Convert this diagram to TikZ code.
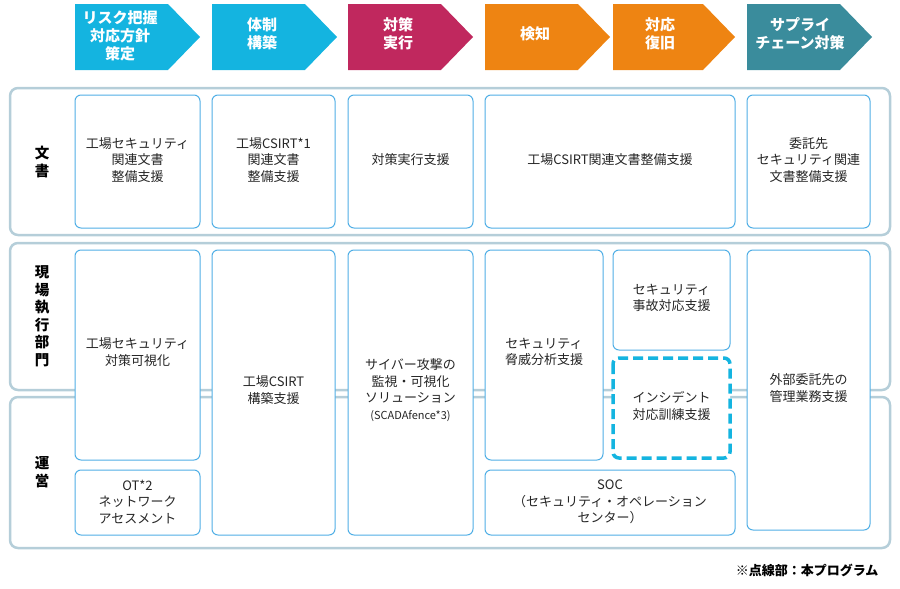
\documentclass[tikz,border=0pt]{standalone}
\usepackage{fontspec}
\setmainfont{Noto Sans CJK JP}
\begin{document}
\begin{tikzpicture}[x=1pt,y=-1pt,
 band/.style={draw=cyan!35!gray!50,line width=2.5pt,rounded corners=8pt,fill=white},
 cell/.style={draw=cyan!80!blue!70,line width=1pt,rounded corners=6pt,fill=white},
 txt/.style={align=center,font=\fontsize{13}{16.5}\selectfont,text=black!85},
 hd/.style={align=center,font=\bfseries\fontsize{15}{18}\selectfont,text=white},
 lab/.style={align=center,font=\bfseries\fontsize{14.5}{17.5}\selectfont}]
\useasboundingbox (0,0) rectangle (900,589);
\definecolor{cb}{HTML}{14B4E0}\definecolor{mg}{HTML}{C0285E}
\definecolor{og}{HTML}{EE8412}\definecolor{tl}{HTML}{3A8C9C}
\foreach \a/\b/\c [count=\i] in {75/200/cb,212/337/cb,348/473/mg,485/610/og,613/735/og,747/872/tl}{
 \fill[\c] (\a,4) -- (\b-32,4) -- (\b,37) -- (\b-32,70) -- (\a,70) -- cycle;}
\node[hd] (h1) at (120,36) {リスク把握\\対応方針\\策定};
\node[hd] (h2) at (262,34) {体制\\構築};
\node[hd] (h3) at (398,34) {対策\\実行};
\node[hd] (h4) at (535,34) {検知};
\node[hd] (h5) at (660,34) {対応\\復旧};
\node[hd] (h6) at (800,34) {サプライ\\チェーン対策};
\draw[band] (10,88) rectangle (890,235);
\draw[band] (10,243) rectangle (890,390);
\draw[band] (10,397) rectangle (890,548);
\node[lab] (l1) at (42,162) {文\\書};
\node[lab] (l2) at (42,316) {現\\場\\執\\行\\部\\門};
\node[lab] (l3) at (42,472) {運\\営};
\draw[cell] (75,95) rectangle (200,228);
\node[txt] (a1) at (137.5,160) {工場セキュリティ\\関連文書\\整備支援};
\draw[cell] (212,95) rectangle (335,228);
\node[txt] (a2) at (273.5,160) {工場CSIRT*1\\関連文書\\整備支援};
\draw[cell] (348,95) rectangle (473,228);
\node[txt] (a3) at (410.5,160) {対策実行支援};
\draw[cell] (485,95) rectangle (735,228);
\node[txt] (a4) at (610,160) {工場CSIRT関連文書整備支援};
\draw[cell] (747,95) rectangle (870,228);
\node[txt] (a5) at (808.5,160) {委託先\\セキュリティ関連\\文書整備支援};
\draw[cell] (75,250) rectangle (200,460);
\node[txt] (b1) at (137.5,352) {工場セキュリティ\\対策可視化};
\draw[cell] (75,470) rectangle (200,535);
\node[txt] (b2) at (137.5,502) {OT*2\\ネットワーク\\アセスメント};
\draw[cell] (212,250) rectangle (335,535);
\node[txt] (b3) at (273.5,390) {工場CSIRT\\構築支援};
\draw[cell] (348,250) rectangle (473,535);
\node[txt] (b4) at (410.5,390) {サイバー攻撃の\\監視・可視化\\ソリューション\\{\fontsize{11}{14}\selectfont(SCADAfence*3)}};
\draw[cell] (485,250) rectangle (603,460);
\node[txt] (b5) at (544,352) {セキュリティ\\脅威分析支援};
\draw[cell] (613,250) rectangle (730,350);
\node[txt] (b6) at (671.5,298) {セキュリティ\\事故対応支援};
\draw[cell,draw=cb,line width=3.5pt,dash pattern=on 10pt off 5pt] (613,358) rectangle (730,458);
\node[txt] (b7) at (671.5,406) {インシデント\\対応訓練支援};
\draw[cell] (485,470) rectangle (735,535);
\node[txt] (b8) at (610,502) {SOC\\（セキュリティ・オペレーション\\センター）};
\draw[cell] (747,250) rectangle (870,530);
\node[txt] (b9) at (808.5,388) {外部委託先の\\管理業務支援};
\node[font=\bfseries\fontsize{13}{15}\selectfont,anchor=east] (fn) at (882,570) {※点線部：本プログラム};
\end{tikzpicture}
\end{document}
